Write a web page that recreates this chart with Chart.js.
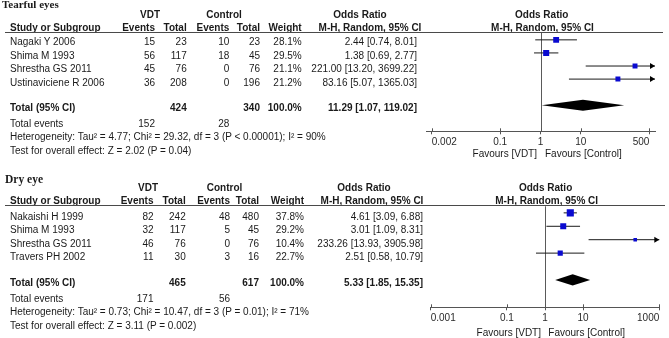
<!DOCTYPE html>
<html>
<head>
<meta charset="utf-8">
<script src="https://cdn.jsdelivr.net/npm/chart.js@4.4.1/dist/chart.umd.min.js"></script>
<style>
html,body{margin:0;padding:0;background:#fff}
#wrap{position:relative;width:669px;height:338px;overflow:hidden;font-family:"Liberation Sans",Arial,sans-serif;font-size:10px;color:#1a1a1a}
.t{position:absolute;white-space:nowrap;line-height:12px}
.b{font-weight:bold}
.ttl{font-family:"Liberation Serif","Times New Roman",serif;font-weight:bold}
.hl{position:absolute;height:1px;background:#4a4a4a}
canvas{position:absolute;left:0}
</style>
</head>
<body>
<div id="wrap"></div>
<script>
// ---- Tearful eyes ----
const studiesA = ['Nagaki Y 2006', 'Shima M 1993', 'Shrestha GS 2011', 'Ustinaviciene R 2006']
const vdtEventsA = [15, 56, 45, 36]
const vdtTotalA = [23, 117, 76, 208]
const ctlEventsA = [10, 18, 0, 0]
const ctlTotalA = [23, 45, 76, 196]
const weightA = [28.1, 29.5, 21.1, 21.2]
const orA = [2.44, 1.38, 221.00, 83.16]
const loA = [0.74, 0.69, 13.20, 5.07]
const hiA = [8.01, 2.77, 3699.22, 1365.03]
const totalsA = [424, 340, 152, 28]          // vdt total, control total, vdt events, control events
const pooledA = [11.29, 1.07, 119.02]        // OR, lower, upper
const hetA = 'Heterogeneity: Tau² = 4.77; Chi² = 29.32, df = 3 (P < 0.00001); I² = 90%'
const testA = 'Test for overall effect: Z = 2.02 (P = 0.04)'
const ticksA = [0.002, 0.1, 1, 10, 500]

// ---- Dry eye ----
const studiesB = ['Nakaishi H 1999', 'Shima M 1993', 'Shrestha GS 2011', 'Travers PH 2002']
const vdtEventsB = [82, 32, 46, 11]
const vdtTotalB = [242, 117, 76, 30]
const ctlEventsB = [48, 5, 0, 3]
const ctlTotalB = [480, 45, 76, 16]
const weightB = [37.8, 29.2, 10.4, 22.7]
const orB = [4.61, 3.01, 233.26, 2.51]
const loB = [3.09, 1.09, 13.93, 0.58]
const hiB = [6.88, 8.31, 3905.98, 10.79]
const totalsB = [465, 617, 171, 56]
const pooledB = [5.33, 1.85, 15.35]
const hetB = 'Heterogeneity: Tau² = 0.73; Chi² = 10.47, df = 3 (P = 0.01); I² = 71%'
const testB = 'Test for overall effect: Z = 3.11 (P = 0.002)'
const ticksB = [0.001, 0.1, 1, 10, 1000]

const wrap = document.getElementById('wrap')

const txt = (s, x, y, align, cls, extra) => {
    const d = document.createElement('div')
    d.className = 't' + (cls ? ' ' + cls : '')
    d.textContent = s
    d.style.top = (y - 6) + 'px'
    if (align === 'r') d.style.right = (669 - x) + 'px'
    else if (align === 'c') { d.style.left = x + 'px'; d.style.transform = 'translateX(-50%)' }
    else d.style.left = x + 'px'
    if (extra) Object.assign(d.style, extra)
    wrap.appendChild(d)
}

const fmtCI = (o, l, h) => o.toFixed(2) + ' [' + l.toFixed(2) + ', ' + h.toFixed(2) + ']'

// square side grows with study weight
const side = w => 2.2 + 0.13 * w

const forestPlugin = (lo, hi, pooled, totalRow) => ({
    id: 'forest',
    beforeDatasetsDraw(chart) {
        const {ctx, chartArea: a, scales: {x, y}} = chart
        ctx.save()
        ctx.lineWidth = 1
        // no-effect line
        const x1 = Math.round(x.getPixelForValue(1)) + 0.5
        ctx.strokeStyle = '#5a5a5a'
        ctx.beginPath(); ctx.moveTo(x1, a.top); ctx.lineTo(x1, a.bottom); ctx.stroke()
        // upper half of the axis ticks
        ctx.strokeStyle = '#555'
        x.ticks.forEach(t => {
            const px = Math.round(x.getPixelForValue(t.value)) + 0.5
            ctx.beginPath(); ctx.moveTo(px, a.bottom - 3); ctx.lineTo(px, a.bottom); ctx.stroke()
        })
        // confidence intervals
        ctx.strokeStyle = '#1a1a1a'
        ctx.fillStyle = '#000'
        lo.forEach((l, i) => {
            const yy = y.getPixelForValue(i)
            const xa = x.getPixelForValue(Math.max(l, x.min))
            const xb = x.getPixelForValue(Math.min(hi[i], x.max))
            ctx.beginPath(); ctx.moveTo(xa, yy); ctx.lineTo(xb, yy); ctx.stroke()
            if (hi[i] > x.max) {
                ctx.beginPath()
                ctx.moveTo(xb, yy); ctx.lineTo(xb - 5, yy - 3); ctx.lineTo(xb - 5, yy + 3)
                ctx.closePath(); ctx.fill()
            }
        })
        // pooled diamond
        const yd = y.getPixelForValue(totalRow)
        ctx.beginPath()
        ctx.moveTo(x.getPixelForValue(pooled[1]), yd)
        ctx.lineTo(x.getPixelForValue(pooled[0]), yd - 5.6)
        ctx.lineTo(x.getPixelForValue(pooled[2]), yd)
        ctx.lineTo(x.getPixelForValue(pooled[0]), yd + 5.6)
        ctx.closePath(); ctx.fill()
        ctx.restore()
    }
})

const drawPanel = (d, L) => {
    // title
    txt(L.title, L.titleX, L.titleY, 'l', 'ttl', {fontSize: L.titleSize + 'px'})
    // header rows
    txt('VDT', L.vdtC, L.h1, 'c', 'b')
    txt('Control', L.ctlC, L.h1, 'c', 'b')
    txt('Odds Ratio', L.orC, L.h1, 'c', 'b')
    txt('Odds Ratio', L.orRC, L.h1, 'c', 'b')
    txt('Study or Subgroup', 10, L.h2, 'l', 'b')
    txt('Events', L.cols[0], L.h2, 'r', 'b')
    txt('Total', L.cols[1], L.h2, 'r', 'b')
    txt('Events', L.cols[2], L.h2, 'r', 'b')
    txt('Total', L.cols[3], L.h2, 'r', 'b')
    txt('Weight', L.cols[4], L.h2, 'r', 'b')
    txt('M-H, Random, 95% CI', L.mhC, L.h2, 'c', 'b')
    txt('M-H, Random, 95% CI', L.mhRC, L.h2, 'c', 'b')
    const hl = document.createElement('div')
    hl.className = 'hl'
    Object.assign(hl.style, {left: '5px', width: (L.lineR - 5) + 'px', top: L.line + 'px'})
    wrap.appendChild(hl)
    // study rows
    d.studies.forEach((s, i) => {
        const yy = L.row0 + i * L.step
        txt(s, 10, yy, 'l')
        txt(String(d.ve[i]), L.cols[0], yy, 'r')
        txt(String(d.vt[i]), L.cols[1], yy, 'r')
        txt(String(d.ce[i]), L.cols[2], yy, 'r')
        txt(String(d.ct[i]), L.cols[3], yy, 'r')
        txt(d.w[i].toFixed(1) + '%', L.cols[4], yy, 'r')
        txt(fmtCI(d.or[i], d.lo[i], d.hi[i]), L.cols[5], yy, 'r')
    })
    txt('Total (95% CI)', 10, L.tot, 'l', 'b')
    txt(String(d.totals[0]), L.cols[1], L.tot, 'r', 'b')
    txt(String(d.totals[1]), L.cols[3], L.tot, 'r', 'b')
    txt('100.0%', L.cols[4], L.tot, 'r', 'b')
    txt(fmtCI(d.pooled[0], d.pooled[1], d.pooled[2]), L.cols[5], L.tot, 'r', 'b')
    txt('Total events', 10, L.ev, 'l')
    txt(String(d.totals[2]), L.cols[0], L.ev, 'r')
    txt(String(d.totals[3]), L.cols[2], L.ev, 'r')
    txt(d.het, 10, L.het, 'l')
    txt(d.test, 10, L.test, 'l')
    txt('Favours [VDT]', L.favL, L.fav, 'r')
    txt('Favours [Control]', L.favR, L.fav, 'l')

    // forest plot
    const cv = document.createElement('canvas')
    cv.width = 669; cv.height = L.cvH
    cv.style.top = L.cvTop + 'px'
    wrap.insertBefore(cv, wrap.firstChild)
    new Chart(cv, {
        type: 'scatter',
        data: {
            datasets: [{
                data: d.or.map((v, i) => ({x: v, y: i})),
                pointStyle: 'rect',
                pointRadius: d.w.map(w => side(w) / Math.SQRT2),
                pointBackgroundColor: '#0a0ad0',
                pointBorderWidth: 0,
                pointBorderColor: '#0a0ad0'
            }]
        },
        options: {
            responsive: false,
            animation: false,
            events: [],
            devicePixelRatio: 1,
            layout: {padding: {left: L.area[0], right: 669 - L.area[1], top: L.area[2] - L.cvTop, bottom: L.cvTop + L.cvH - L.area[3] - 17}},
            plugins: {legend: {display: false}, tooltip: {enabled: false}},
            scales: {
                x: {
                    type: 'logarithmic',
                    bounds: 'data',
                    min: L.xmin, max: L.xmax,
                    afterBuildTicks: s => { s.ticks = d.ticks.map(v => ({value: v})) },
                    grid: {drawOnChartArea: false, drawTicks: true, tickLength: 3, color: '#555'},
                    border: {display: true, color: '#555'},
                    ticks: {
                        autoSkip: false, maxRotation: 0, align: 'inner', padding: 2,
                        color: '#2a2a2a',
                        font: {family: '"Liberation Sans", Arial, sans-serif', size: 10},
                        callback: v => String(v)
                    }
                },
                y: {type: 'linear', display: false, reverse: true, min: L.ymin, max: L.ymax}
            }
        },
        plugins: [forestPlugin(d.lo, d.hi, d.pooled, d.studies.length + 1)]
    })
}

drawPanel(
    {studies: studiesA, ve: vdtEventsA, vt: vdtTotalA, ce: ctlEventsA, ct: ctlTotalA, w: weightA,
     or: orA, lo: loA, hi: hiA, totals: totalsA, pooled: pooledA, het: hetA, test: testA, ticks: ticksA},
    {title: 'Tearful eyes', titleX: 2, titleY: 4.3, titleSize: 11,
     h1: 15, h2: 28.3, line: 31.5, lineR: 663, row0: 42.3, step: 13.45, tot: 108.3, ev: 124, het: 137.3, test: 150.7,
     cols: [155, 186.7, 229.3, 260, 301.7, 417], vdtC: 150, ctlC: 224, orC: 360, mhC: 370, orRC: 541.7, mhRC: 542.5,
     fav: 154, favL: 537, favR: 545,
     cvTop: 0, cvH: 165, area: [426, 655, 32, 133.3], xmin: 0.00144, xmax: 692, ymin: -0.6, ymax: 6.99}
)

drawPanel(
    {studies: studiesB, ve: vdtEventsB, vt: vdtTotalB, ce: ctlEventsB, ct: ctlTotalB, w: weightB,
     or: orB, lo: loB, hi: hiB, totals: totalsB, pooled: pooledB, het: hetB, test: testB, ticks: ticksB},
    {title: 'Dry eye', titleX: 5, titleY: 179.3, titleSize: 11.5,
     h1: 187.7, h2: 201, line: 205, lineR: 665, row0: 216.7, step: 13.55, tot: 283.3, ev: 299, het: 312.3, test: 325.7,
     cols: [153.5, 185.7, 230, 259, 304, 423], vdtC: 148, ctlC: 224.5, orC: 364, mhC: 372, orRC: 545.6, mhRC: 546.7,
     fav: 332.7, favL: 541, favR: 548.3,
     cvTop: 165, cvH: 173, area: [430.7, 659.3, 206.3, 309.3], xmin: 0.001, xmax: 1000, ymin: -0.49, ymax: 7.04}
)
</script>
</body>
</html>
